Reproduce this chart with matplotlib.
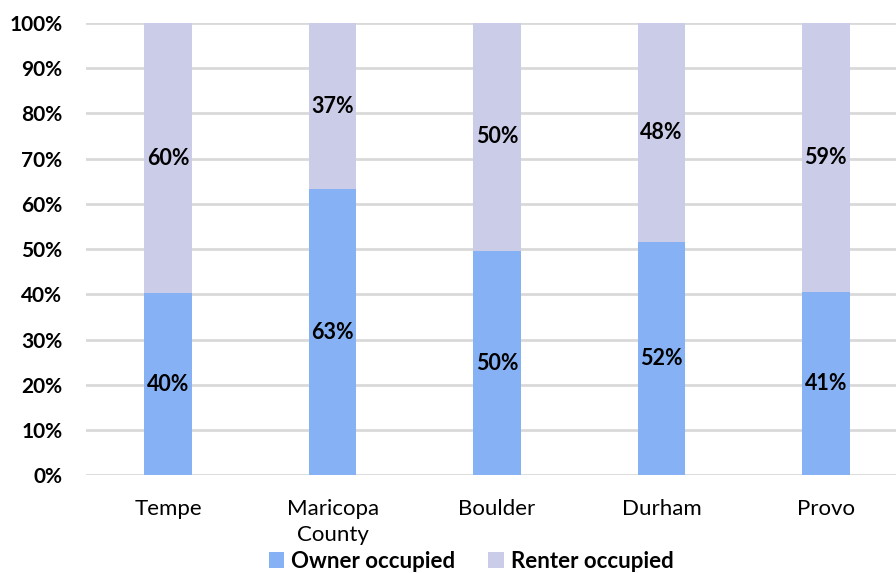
import matplotlib.pyplot as plt
import numpy as np

# share of housing units by tenure (%)
places = ["Tempe", "Maricopa\nCounty", "Boulder", "Durham", "Provo"]
owner = [40.2, 63.2, 49.6, 51.6, 40.6]
renter = [100 - v for v in owner]

owner_color = "#86b2f5"
renter_color = "#cbcce8"

plt.rcParams['font.family'] = ['Lato', 'DejaVu Sans']

fig = plt.figure(figsize=(8.96, 5.73), dpi=100)
ax = fig.add_axes([86 / 896, 1 - 475.3 / 573, 822 / 896, 452.5 / 573])

x = np.arange(len(places))
width = 0.29
b1 = ax.bar(x, owner, width, color=owner_color, label="Owner occupied", zorder=3)
b2 = ax.bar(x, renter, width, bottom=owner, color=renter_color,
            label="Renter occupied", zorder=3)

for bars, vals, base in ((b1, owner, [0] * len(owner)), (b2, renter, owner)):
    for rect, v, b in zip(bars, vals, base):
        ax.text(rect.get_x() + rect.get_width() / 2, b + v / 2, f"{v:.0f}%",
                ha="center", va="center", fontsize=15.5, fontweight="bold",
                color="black", zorder=4)

ax.set_xlim(-0.5, len(places) - 0.5)
ax.set_ylim(0, 100)
ax.set_yticks(range(0, 101, 10))
ax.set_yticklabels([f"{t}%" for t in range(0, 101, 10)],
                   fontsize=15, fontweight="bold")
ax.set_xticks(x)
ax.set_xticklabels(places, fontsize=16, linespacing=1.4)
ax.tick_params(axis="both", length=0)
ax.tick_params(axis="x", pad=17)
ax.tick_params(axis="y", pad=17)
ax.yaxis.grid(True, color="#d9d9d9", linewidth=2, zorder=0)
for s in ax.spines.values():
    s.set_visible(False)

fig.legend(loc="center", bbox_to_anchor=(471 / 896, 1 - 561 / 573), ncol=2,
           frameon=False, handlelength=0.7, handleheight=0.7,
           handletextpad=0.3, columnspacing=1.5,
           prop={"size": 16, "weight": "bold"})

fig.savefig("out.png", dpi=100)
